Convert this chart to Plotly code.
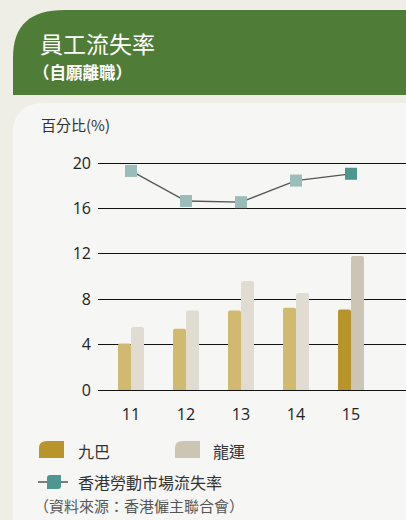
import plotly.graph_objects as go

# ---- data ----
years = ["11", "12", "13", "14", "15"]
kmb = [4.1, 5.4, 7.0, 7.25, 7.1]          # 九巴
lwb = [5.55, 7.0, 9.6, 8.55, 11.8]        # 龍運
market = [19.3, 16.65, 16.55, 18.45, 19.05]  # 香港勞動市場流失率
y_ticks = [0, 4, 8, 12, 16, 20]

title = "員工流失率"
subtitle = "（自願離職）"
y_title = "百分比(%)"
legend_names = ["九巴", "龍運", "香港勞動市場流失率"]
source = "（資料來源：香港僱主聯合會）"

# ---- styles ----
W, H = 406, 520
L, R, T, B = 98, 406, 152, 390
CJK = "Noto Sans CJK TC"
NUM = "Open Sans"
gold = ["#D2B970"] * 4 + ["#B8952A"]
light = ["#E0DCD1"] * 4 + ["#CDC5B3"]
mk = ["#9BBDB9"] * 4 + ["#4E9690"]


def px(x):
    return (x - L) / (R - L)


def py(y):
    return (B - y) / (B - T)


def path(pts):
    out = []
    for cmd, *xy in pts:
        coords = []
        for i in range(0, len(xy), 2):
            coords.append(f"{px(xy[i]):.5f},{py(xy[i+1]):.5f}")
        out.append(cmd + " ".join(coords))
    return " ".join(out) + " Z"


fig = go.Figure()
fig.add_trace(go.Bar(x=years, y=kmb, marker=dict(color=gold, line=dict(width=0), cornerradius=2),
                     offset=-0.236, width=0.236, name=legend_names[0], showlegend=False))
fig.add_trace(go.Bar(x=years, y=lwb, marker=dict(color=light, line=dict(width=0), cornerradius=2),
                     offset=0.0, width=0.236, name=legend_names[1], showlegend=False))
fig.add_trace(go.Scatter(x=years, y=market, mode="lines+markers", name=legend_names[2],
                         line=dict(color="#555555", width=1.3),
                         marker=dict(symbol="square", size=12, color=mk, line=dict(width=0)),
                         showlegend=False))

shapes = [
    # green header
    dict(type="path", xref="paper", yref="paper", layer="below",
         path=path([("M", 13, 95), ("L", 13, 58), ("C", 13, 25, 30, 10, 65, 10),
                    ("L", 406, 10), ("L", 406, 95)]),
         fillcolor="#4F7D37", line=dict(width=0)),
    # white panel
    dict(type="path", xref="paper", yref="paper", layer="below",
         path=path([("M", 13, 520), ("L", 13, 132), ("C", 13, 114, 24, 103, 45, 103),
                    ("L", 406, 103), ("L", 406, 520)]),
         fillcolor="#F6F6F5", line=dict(width=0)),
    # legend swatches
    dict(type="path", xref="paper", yref="paper",
         path=path([("M", 39, 458), ("L", 39, 448), ("Q", 39, 441, 47, 441),
                    ("L", 64, 441), ("L", 64, 458)]),
         fillcolor="#B8952A", line=dict(width=0)),
    dict(type="path", xref="paper", yref="paper",
         path=path([("M", 175, 458), ("L", 175, 448), ("Q", 175, 441, 183, 441),
                    ("L", 200, 441), ("L", 200, 458)]),
         fillcolor="#CDC5B3", line=dict(width=0)),
    dict(type="line", xref="paper", yref="paper", x0=px(38), x1=px(68), y0=py(482), y1=py(482),
         line=dict(color="#555555", width=1.5)),
    dict(type="path", xref="paper", yref="paper",
         path=path([("M", 47, 489), ("L", 47, 478), ("Q", 47, 475, 50, 475),
                    ("L", 61, 475), ("L", 61, 486), ("Q", 61, 489, 58, 489)]),
         fillcolor="#4E9690", line=dict(width=0)),
]


def ann(text, x, y, size, color, anchor="left"):
    return dict(text=text, x=px(x), y=py(y), xref="paper", yref="paper", showarrow=False,
                xanchor=anchor, yanchor="middle", font=dict(family=CJK, size=size, color=color))


annotations = [
    ann(title, 38, 43, 23, "white"),
    ann("<b>" + subtitle + "</b>", 31, 72, 16.5, "white"),
    ann(y_title, 39, 125, 15, "#333333"),
    ann(legend_names[0], 76, 451, 16, "#333333"),
    ann(legend_names[1], 211, 451, 16, "#333333"),
    ann(legend_names[2], 76, 482, 16, "#333333"),
    ann(source, 32, 505, 15, "#555555"),
]

fig.update_layout(
    width=W, height=H,
    margin=dict(l=L, r=W - R, t=T, b=H - B, pad=0),
    paper_bgcolor="#EEEEE7", plot_bgcolor="rgba(0,0,0,0)",
    barmode="overlay", showlegend=False,
    shapes=shapes, annotations=annotations,
    xaxis=dict(type="category", range=[-0.6, 5.0], showgrid=False, zeroline=False,
               showline=True, linecolor="#111111", linewidth=1, ticks="",
               tickfont=dict(family=NUM, size=16, color="#222222"), ticklabelstandoff=10),
    yaxis=dict(range=[0, (B - T) / 11.35], tickvals=y_ticks, showgrid=True, gridcolor="#111111",
               gridwidth=1, zeroline=True, zerolinecolor="#111111", zerolinewidth=1,
               ticks="", tickfont=dict(family=NUM, size=16, color="#222222"),
               ticklabelstandoff=6),
)

fig.write_html("out.html", config={"displayModeBar": False},
               post_script="document.body.style.margin='0';document.body.style.overflow='hidden';")
